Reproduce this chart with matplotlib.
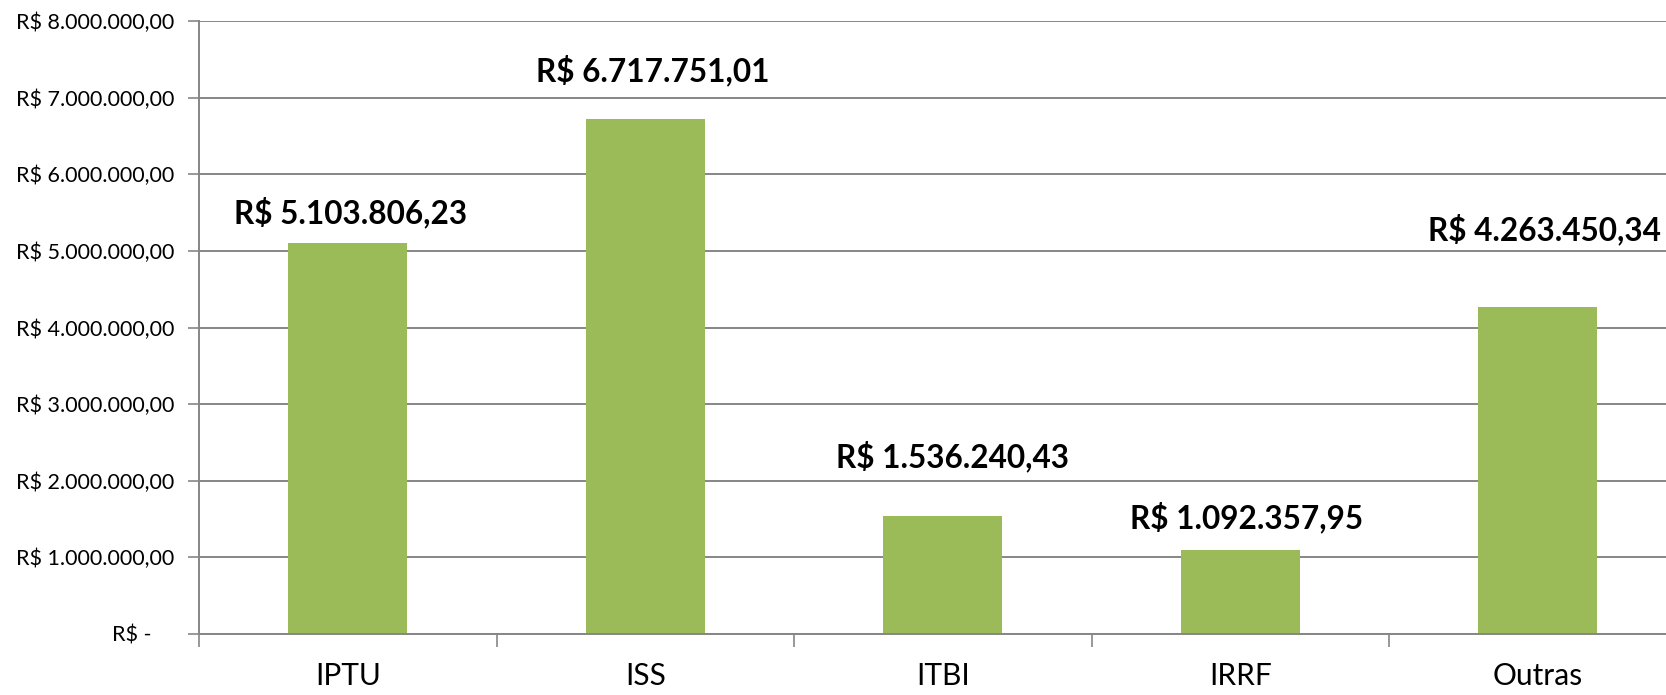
import matplotlib.pyplot as plt
import numpy as np

categorias = ['IPTU', 'ISS', 'ITBI', 'IRRF', 'Outras']
valores = [5103806.23, 6717751.01, 1536240.43, 1092357.95, 4263450.34]
rotulos = ['R$ 5.103.806,23', 'R$ 6.717.751,01', 'R$ 1.536.240,43',
           'R$ 1.092.357,95', 'R$ 4.263.450,34']
yticks = [0, 1e6, 2e6, 3e6, 4e6, 5e6, 6e6, 7e6, 8e6]
ytick_labels = ['R$ -    ', 'R$ 1.000.000,00', 'R$ 2.000.000,00', 'R$ 3.000.000,00',
                'R$ 4.000.000,00', 'R$ 5.000.000,00', 'R$ 6.000.000,00',
                'R$ 7.000.000,00', 'R$ 8.000.000,00']

# deslocamento dos rotulos (pixels) - posicionados a mao no original
desloc = [(3, 20), (7, 38), (10, 49), (6, 22), (7, 67)]

plt.rcParams['font.family'] = ['Lato', 'DejaVu Sans']

fig = plt.figure(figsize=(16.66, 6.95), dpi=100)
ax = fig.add_axes([199/1666, 61/695, 1487.5/1666, 613/695])

x = np.arange(len(categorias))
ax.bar(x, valores, width=0.4, color='#9BBB59', zorder=3)

for xi, v, r, d in zip(x, valores, rotulos, desloc):
    ax.annotate(r, (xi, v), xytext=d, textcoords='offset pixels',
                ha='center', va='baseline', fontsize=22.7, fontweight='bold')

ax.set_xlim(-0.5, len(categorias) - 0.5)
ax.set_ylim(0, 8e6)
ax.set_yticks(yticks)
ax.set_yticklabels(ytick_labels, fontsize=15.5)
ax.set_xticks(x)
ax.set_xticklabels(categorias, fontsize=21.5)
ax.set_xticks(np.arange(len(categorias) + 1) - 0.5, minor=True)

ax.grid(axis='y', color='#868686', linewidth=1.4, zorder=0)
for s in ['top', 'right']:
    ax.spines[s].set_visible(False)
for s in ['left', 'bottom']:
    ax.spines[s].set_color('#868686')
    ax.spines[s].set_linewidth(1.4)
    ax.spines[s].set_zorder(4)

ax.tick_params(axis='x', which='major', length=0, pad=20)
ax.tick_params(axis='x', which='minor', length=9, color='#868686', width=1.2)
ax.tick_params(axis='y', length=8, color='#868686', width=1.2, pad=10)

plt.savefig('out.png', dpi=100)
